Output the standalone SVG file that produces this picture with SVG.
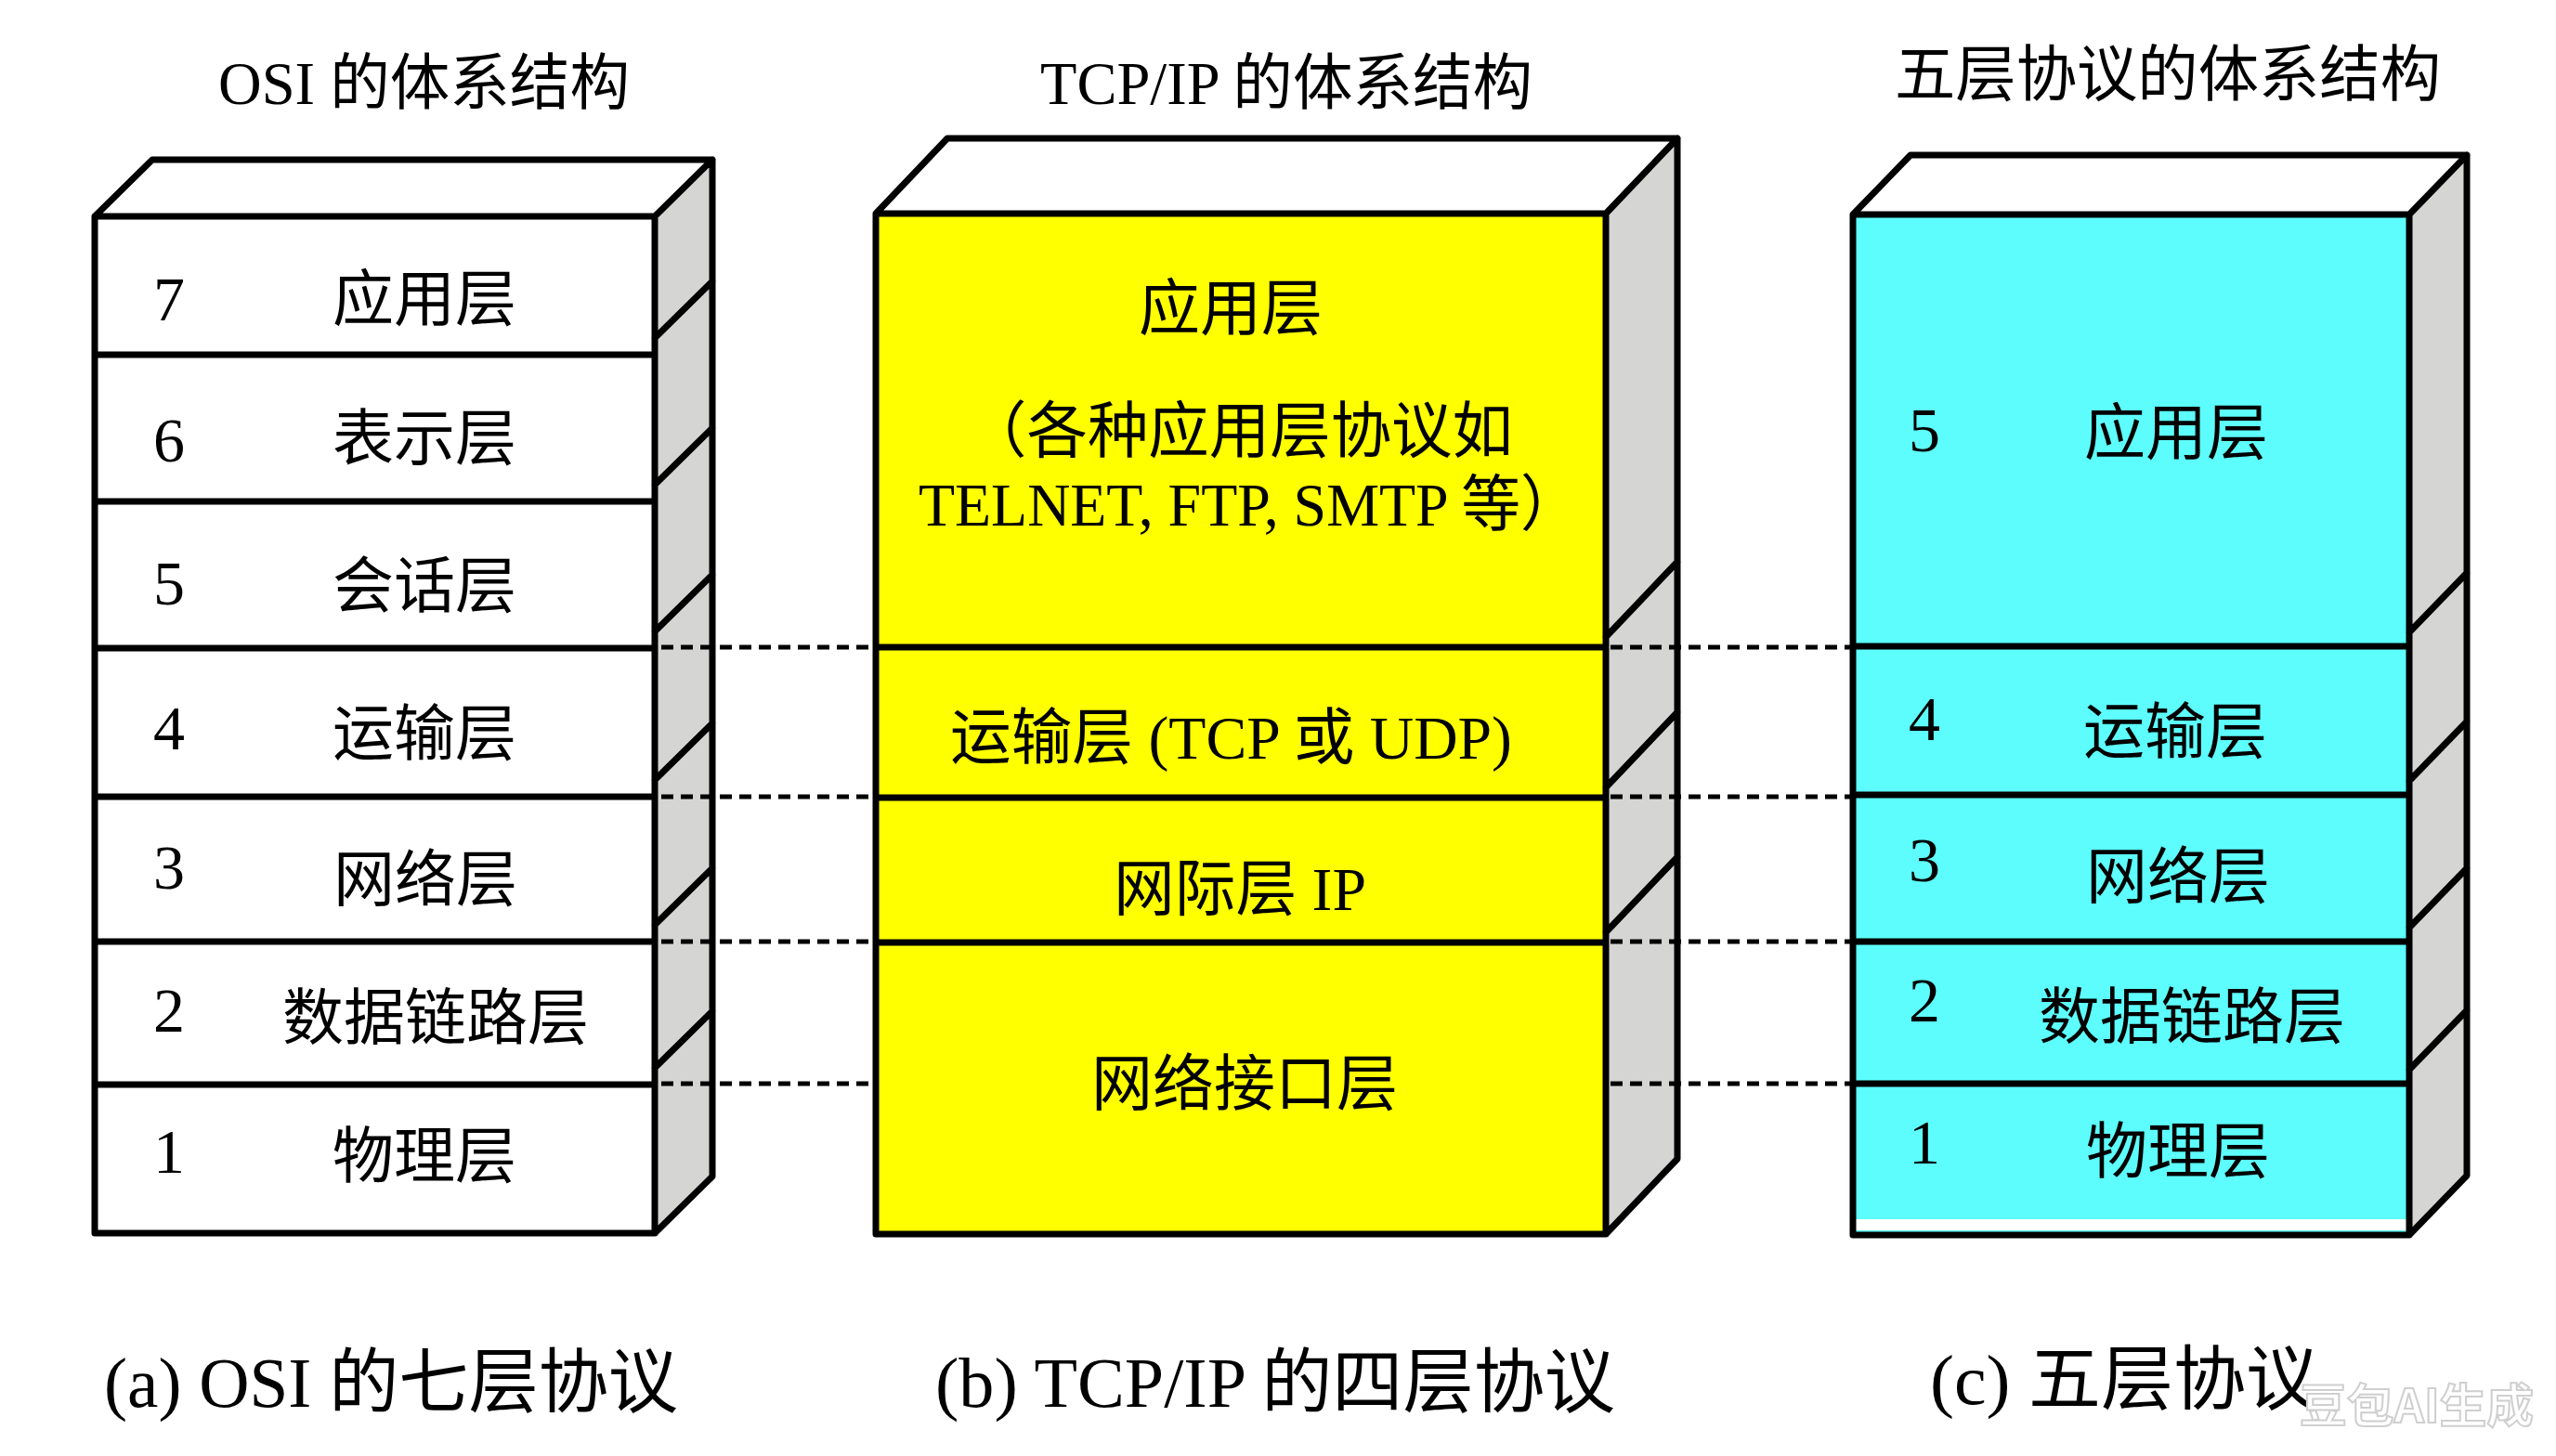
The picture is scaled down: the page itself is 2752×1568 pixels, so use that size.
<svg xmlns="http://www.w3.org/2000/svg" width="2752" height="1568" viewBox="0 0 2752 1568">
<style>
.top{fill:#ffffff;}
.side{fill:#d5d5d3;}
.ln{fill:none;stroke:#000;stroke-width:7;stroke-linejoin:round;stroke-linecap:round;}
.white{fill:#ffffff;}
.yellow{fill:#ffff00;}
.cyan{fill:#5dfdfd;}
.t{font-family:"Liberation Serif","Noto Sans CJK SC",serif;fill:#000;}
.cj{font-family:"Noto Sans CJK SC","Liberation Sans",sans-serif;fill:#000;font-size:66px;}
.num{font-family:"Liberation Serif",serif;font-size:68px;fill:#000;}
.dash{fill:none;stroke:#000;stroke-width:5;stroke-dasharray:13 8;}
</style>
<rect width="2752" height="1568" fill="#ffffff"/>

<g id="titles">
<text class="t" x="235" y="112" font-size="66" textLength="443" lengthAdjust="spacingAndGlyphs">OSI 的体系结构</text>
<text class="t" x="1120" y="112" font-size="66" textLength="530" lengthAdjust="spacingAndGlyphs">TCP/IP 的体系结构</text>
<text class="t" x="2040" y="103" font-size="66" textLength="588" lengthAdjust="spacingAndGlyphs">五层协议的体系结构</text>
</g>

<!-- OSI box -->
<g id="osi">
<polygon class="top" points="102,233 164,172 767,172 705,233"/>
<polygon class="side" points="705,233 767,172 767,1267 705,1328"/>
<g id="osi-7"><rect class="white" x="102" y="233" width="603" height="149"/><text class="num" x="165" y="345">7</text><text class="cj" x="457" y="345" text-anchor="middle">应用层</text></g>
<g id="osi-6"><rect class="white" x="102" y="382" width="603" height="158"/><text class="num" x="165" y="497">6</text><text class="cj" x="457" y="495" text-anchor="middle">表示层</text></g>
<g id="osi-5"><rect class="white" x="102" y="540" width="603" height="158"/><text class="num" x="165" y="651">5</text><text class="cj" x="457" y="654" text-anchor="middle">会话层</text></g>
<g id="osi-4"><rect class="white" x="102" y="698" width="603" height="160"/><text class="num" x="165" y="807">4</text><text class="cj" x="457" y="813" text-anchor="middle">运输层</text></g>
<g id="osi-3"><rect class="white" x="102" y="858" width="603" height="156"/><text class="num" x="165" y="957">3</text><text class="cj" x="458" y="970" text-anchor="middle">网络层</text></g>
<g id="osi-2"><rect class="white" x="102" y="1014" width="603" height="154"/><text class="num" x="165" y="1111">2</text><text class="cj" x="469" y="1119" text-anchor="middle">数据链路层</text></g>
<g id="osi-1"><rect class="white" x="102" y="1168" width="603" height="160"/><text class="num" x="165" y="1263">1</text><text class="cj" x="457" y="1268" text-anchor="middle">物理层</text></g>
<path class="ln" d="M102,233 L164,172 L767,172 L767,1267 L705,1328 L102,1328 Z M102,233 L705,233 L767,172 M705,233 L705,1328 M102,382 L705,382 M102,540 L705,540 M102,698 L705,698 M102,858 L705,858 M102,1014 L705,1014 M102,1168 L705,1168 M705,364 L767,303 M705,522 L767,461 M705,680 L767,619 M705,840 L767,779 M705,996 L767,935 M705,1150 L767,1089"/>
</g>

<!-- TCP/IP box -->
<g id="tcpip">
<polygon class="top" points="943,230 1020,149 1806,149 1729,230"/>
<polygon class="side" points="1729,230 1806,149 1806,1248 1729,1329"/>
<g id="tcp-app"><rect class="yellow" x="943" y="230" width="786" height="467"/>
<text class="cj" x="1325" y="355" text-anchor="middle">应用层</text>
<text class="cj" x="1040" y="487" font-size="64" textLength="589" lengthAdjust="spacingAndGlyphs">（各种应用层协议如</text>
<text class="t" x="989" y="566" font-size="66" textLength="712" lengthAdjust="spacingAndGlyphs">TELNET, FTP, SMTP 等）</text></g>
<g id="tcp-transport"><rect class="yellow" x="943" y="697" width="786" height="162"/>
<text class="t" x="1023" y="817" font-size="66" textLength="605" lengthAdjust="spacingAndGlyphs">运输层 (TCP 或 UDP)</text></g>
<g id="tcp-internet"><rect class="yellow" x="943" y="859" width="786" height="156"/>
<text class="t" x="1199" y="980" font-size="66" textLength="272" lengthAdjust="spacingAndGlyphs">网际层 IP</text></g>
<g id="tcp-netif"><rect class="yellow" x="943" y="1015" width="786" height="314"/>
<text class="cj" x="1340" y="1190" text-anchor="middle" font-size="65">网络接口层</text></g>
<path class="ln" d="M943,230 L1020,149 L1806,149 L1806,1248 L1729,1329 L943,1329 Z M943,230 L1729,230 L1806,149 M1729,230 L1729,1329 M943,697 L1729,697 M943,859 L1729,859 M943,1015 L1729,1015 M1729,686 L1806,605 M1729,848 L1806,767 M1729,1004 L1806,923"/>
</g>

<!-- Five-layer box -->
<g id="five">
<polygon class="top" points="1995,231 2057,167 2656,167 2594,231"/>
<polygon class="side" points="2594,231 2656,167 2656,1266 2594,1330"/>
<g id="five-5"><rect class="cyan" x="1995" y="231" width="599" height="465"/><text class="num" x="2055" y="486">5</text><text class="cj" x="2343" y="489" text-anchor="middle">应用层</text></g>
<g id="five-4"><rect class="cyan" x="1995" y="696" width="599" height="160"/><text class="num" x="2055" y="797">4</text><text class="cj" x="2342" y="811" text-anchor="middle">运输层</text></g>
<g id="five-3"><rect class="cyan" x="1995" y="856" width="599" height="158"/><text class="num" x="2055" y="949">3</text><text class="cj" x="2345" y="967" text-anchor="middle">网络层</text></g>
<g id="five-2"><rect class="cyan" x="1995" y="1014" width="599" height="153"/><text class="num" x="2055" y="1100">2</text><text class="cj" x="2360" y="1118" text-anchor="middle">数据链路层</text></g>
<g id="five-1"><rect class="cyan" x="1995" y="1167" width="599" height="163"/><rect class="white" x="1998" y="1313" width="593" height="12"/><text class="num" x="2055" y="1253">1</text><text class="cj" x="2345" y="1263" text-anchor="middle">物理层</text></g>
<path class="ln" d="M1995,231 L2057,167 L2656,167 L2656,1266 L2594,1330 L1995,1330 Z M1995,231 L2594,231 L2656,167 M2594,231 L2594,1330 M1995,696 L2594,696 M1995,856 L2594,856 M1995,1014 L2594,1014 M1995,1167 L2594,1167 M2594,681 L2656,617 M2594,841 L2656,777 M2594,999 L2656,935 M2594,1152 L2656,1088"/>
</g>

<g id="connectors">
<line class="dash" x1="712" y1="697" x2="943" y2="697"/>
<line class="dash" x1="712" y1="858" x2="943" y2="858"/>
<line class="dash" x1="712" y1="1014" x2="943" y2="1014"/>
<line class="dash" x1="712" y1="1167" x2="943" y2="1167"/>
<line class="dash" x1="1734" y1="697" x2="1995" y2="697"/>
<line class="dash" x1="1734" y1="858" x2="1995" y2="858"/>
<line class="dash" x1="1734" y1="1014" x2="1995" y2="1014"/>
<line class="dash" x1="1734" y1="1167" x2="1995" y2="1167"/>
</g>

<g id="captions">
<text class="t" x="112" y="1515" font-size="76" textLength="618" lengthAdjust="spacingAndGlyphs">(a) OSI 的七层协议</text>
<text class="t" x="1007" y="1515" font-size="76" textLength="732" lengthAdjust="spacingAndGlyphs">(b) TCP/IP 的四层协议</text>
<text class="t" x="2078" y="1512" font-size="76" textLength="418" lengthAdjust="spacingAndGlyphs">(c) 五层协议</text>
<text x="2476" y="1532" font-family="Noto Sans CJK SC, sans-serif" font-weight="bold" font-size="50" textLength="252" lengthAdjust="spacingAndGlyphs" fill="#ffffff" stroke="#cfcfcf" stroke-width="2">豆包AI生成</text>
</g>
</svg>
